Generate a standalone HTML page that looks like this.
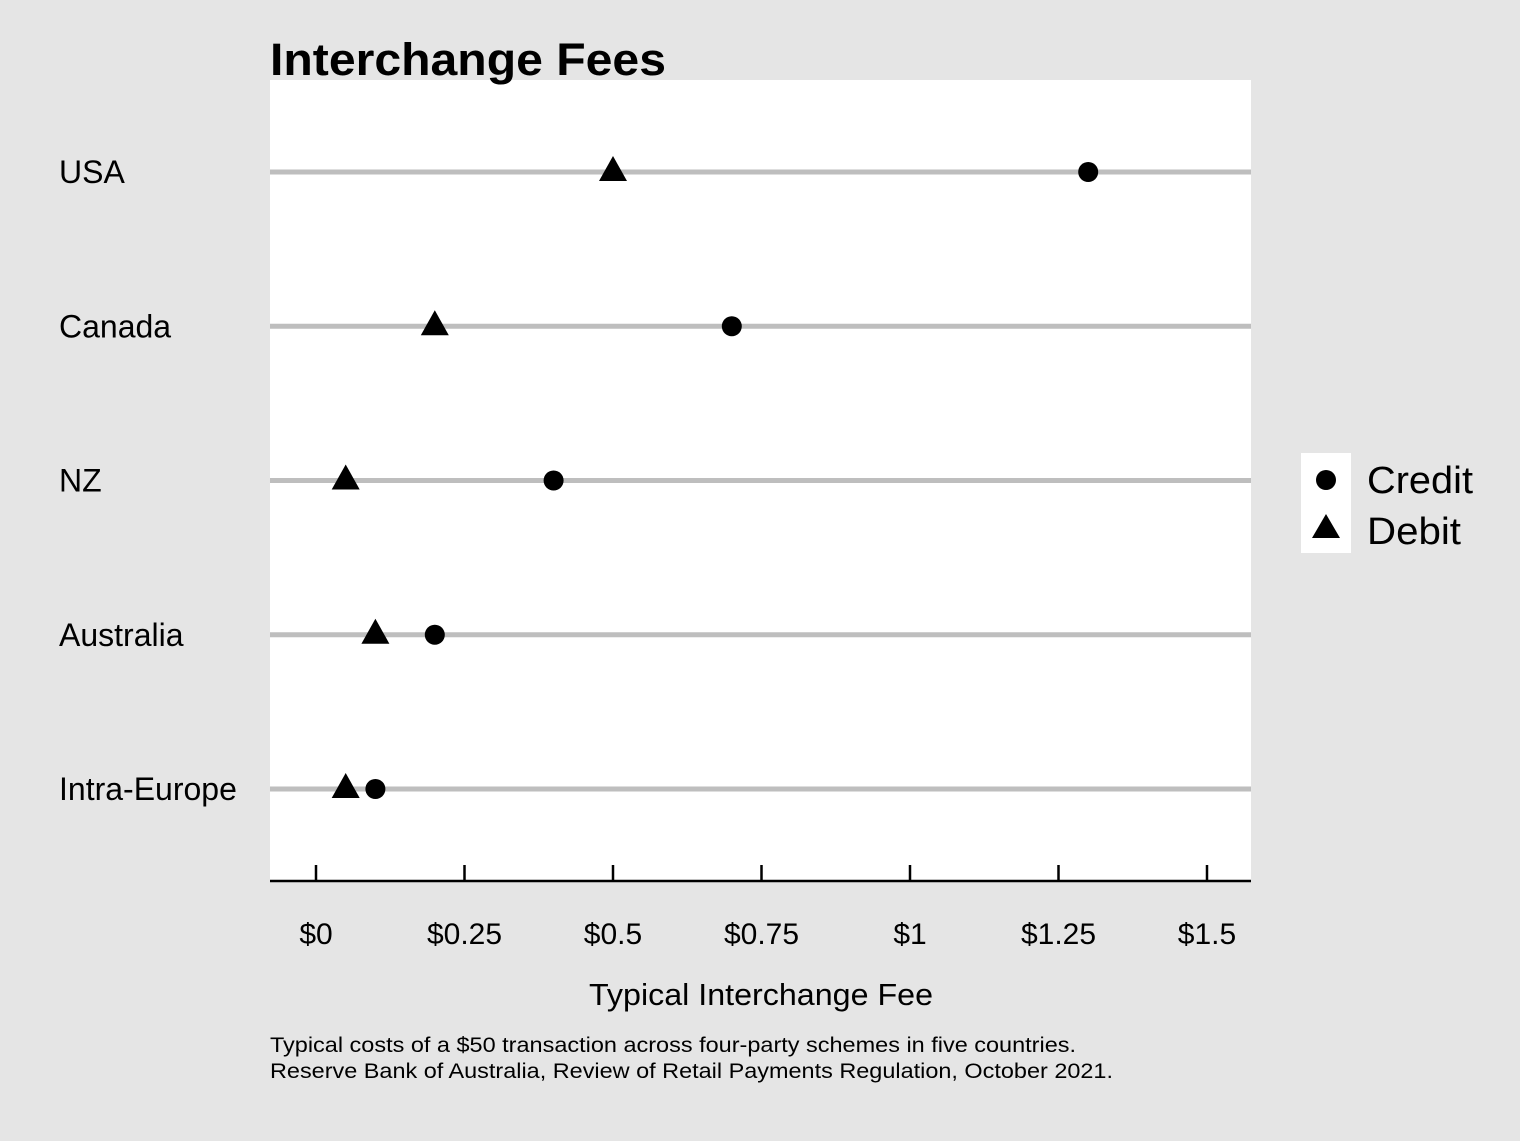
<!DOCTYPE html>
<html><head><meta charset="utf-8"><style>
body{margin:0;background:#e5e5e5;}
svg{display:block;font-family:"Liberation Sans",Arial,sans-serif;}
</style></head><body>
<svg id="chart" width="1520" height="1141" viewBox="0 0 1520 1141">
<rect width="1520" height="1141" fill="#e5e5e5"/>
<rect x="270" y="80" width="981" height="801" fill="#fff"/>
<text x="270" y="75" font-size="45" font-weight="bold" fill="#000" textLength="396" lengthAdjust="spacingAndGlyphs">Interchange Fees</text>
<g id="rows"></g>
<g id="marks"></g>
<line x1="270" y1="881" x2="1251" y2="881" stroke="#000" stroke-width="2.5"/>
<g id="xaxis"></g>
<text x="589" y="1005" font-size="31" textLength="344" lengthAdjust="spacingAndGlyphs">Typical Interchange Fee</text>
<text x="270" y="1052" font-size="21" textLength="806" lengthAdjust="spacingAndGlyphs">Typical costs of a $50 transaction across four-party schemes in five countries.</text>
<text x="270" y="1078" font-size="21" textLength="843" lengthAdjust="spacingAndGlyphs">Reserve Bank of Australia, Review of Retail Payments Regulation, October 2021.</text>
<g>
<rect x="1301" y="453" width="50" height="100" fill="#fff"/>
<circle cx="1326" cy="480" r="10" fill="#000"/>
<text x="1367" y="493" font-size="38" textLength="106" lengthAdjust="spacingAndGlyphs">Credit</text>
<polygon points="1326,514 1340,538 1312,538" fill="#000"/>
<text x="1367" y="544" font-size="38" textLength="94" lengthAdjust="spacingAndGlyphs">Debit</text>
</g>
</svg>
<script>
const countries = ["USA","Canada","NZ","Australia","Intra-Europe"];
const credit = [1.30, 0.70, 0.40, 0.20, 0.10];
const debit = [0.50, 0.20, 0.05, 0.10, 0.05];
const ticks = [0, 0.25, 0.5, 0.75, 1, 1.25, 1.5];
const tickLabels = ["$0","$0.25","$0.5","$0.75","$1","$1.25","$1.5"];

const NS = "http://www.w3.org/2000/svg";
const x = v => 316 + v * 594;
const y = i => 172 + i * 154.25;
function mk(tag, attrs, parent){const e=document.createElementNS(NS,tag);for(const k in attrs)e.setAttribute(k,attrs[k]);parent.appendChild(e);return e;}
const rows=document.getElementById("rows"), marks=document.getElementById("marks"), xa=document.getElementById("xaxis");
countries.forEach((c,i)=>{
  const l=mk("line",{x1:270,x2:1251,y1:y(i),y2:y(i),stroke:"#bebebe","stroke-width":5},rows);
  
  
  const t=mk("text",{x:59,y:y(i)+11,"font-size":32},rows);
  t.textContent=c;
  
  
  const cx=x(credit[i]), dx=x(debit[i]), cy=y(i);
  const p=mk("polygon",{points:`${dx},${cy-16} ${dx+14},${cy+9} ${dx-14},${cy+9}`,fill:"#000"},marks);
  
  
  const ci=mk("circle",{cx:cx,cy:cy,r:10,fill:"#000"},marks);
  
  
});
ticks.forEach((v,i)=>{
  const l=mk("line",{x1:x(v),x2:x(v),y1:865,y2:881,stroke:"#000","stroke-width":2.5},xa);
  
  
  const t=mk("text",{x:x(v),y:944,"font-size":30,"text-anchor":"middle"},xa);
  t.textContent=tickLabels[i];
  
  
});
</script>
</body></html>
